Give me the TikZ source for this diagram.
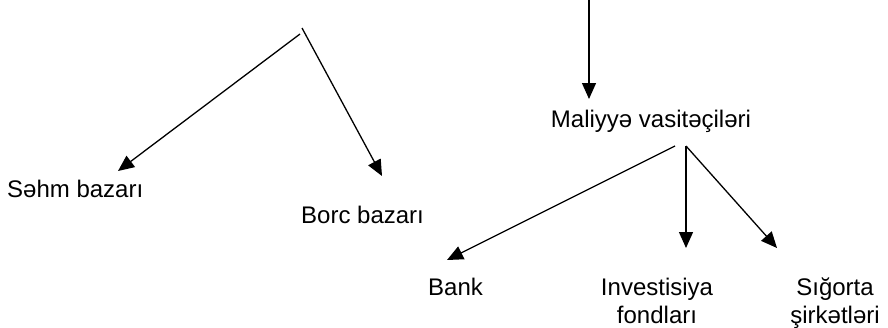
\documentclass[tikz,border=0pt]{standalone}
\usepackage{fontspec}
\setmainfont{Liberation Sans}
\usetikzlibrary{arrows.meta}
\tikzset{
  lbl/.style={inner sep=0pt, font=\fontsize{24}{28}\selectfont},
  conn/.style={line width=1.3pt, -{Triangle[length=16pt,width=14pt]}},
}
\begin{document}
\begin{tikzpicture}[x=1pt,y=-1pt]
\useasboundingbox (0,0) rectangle (888,327);
% labels
\node[lbl, anchor=base west] (sehm) at (7,197) {Səhm bazarı};
\node[lbl, anchor=base west] (borc) at (301,223) {Borc bazarı};
\node[lbl, anchor=base] (mal) at (651,127) {Maliyyə vasitəçiləri};
\node[lbl, anchor=base west] (bank) at (428,295) {Bank};
\node[lbl, anchor=base, align=center] (inv) at (657,323) {Investisiya\\fondları};
\node[lbl, anchor=base, align=center] (sig) at (835,323) {Sığorta\\şirkətləri};
% connector end points
\coordinate (aL) at (300,34);
\coordinate (aR) at (302,28);
\coordinate (top) at (589,0);
\coordinate (tS) at (118,171);
\coordinate (tB) at (382,176);
\coordinate (tM) at (589,99);
\coordinate (mA) at (675,146);
\coordinate (mB) at (686,146);
\coordinate (tBank) at (447,260);
\coordinate (tInv) at (686,248);
\coordinate (tSig) at (777,248);
% connectors
\draw[conn] (aL) -- (tS);
\draw[conn] (aR) -- (tB);
\draw[conn] (top) -- (tM);
\draw[conn] (mA) -- (tBank);
\draw[conn] (mB) -- (tInv);
\draw[conn] (mB) -- (tSig);
\end{tikzpicture}
\end{document}
